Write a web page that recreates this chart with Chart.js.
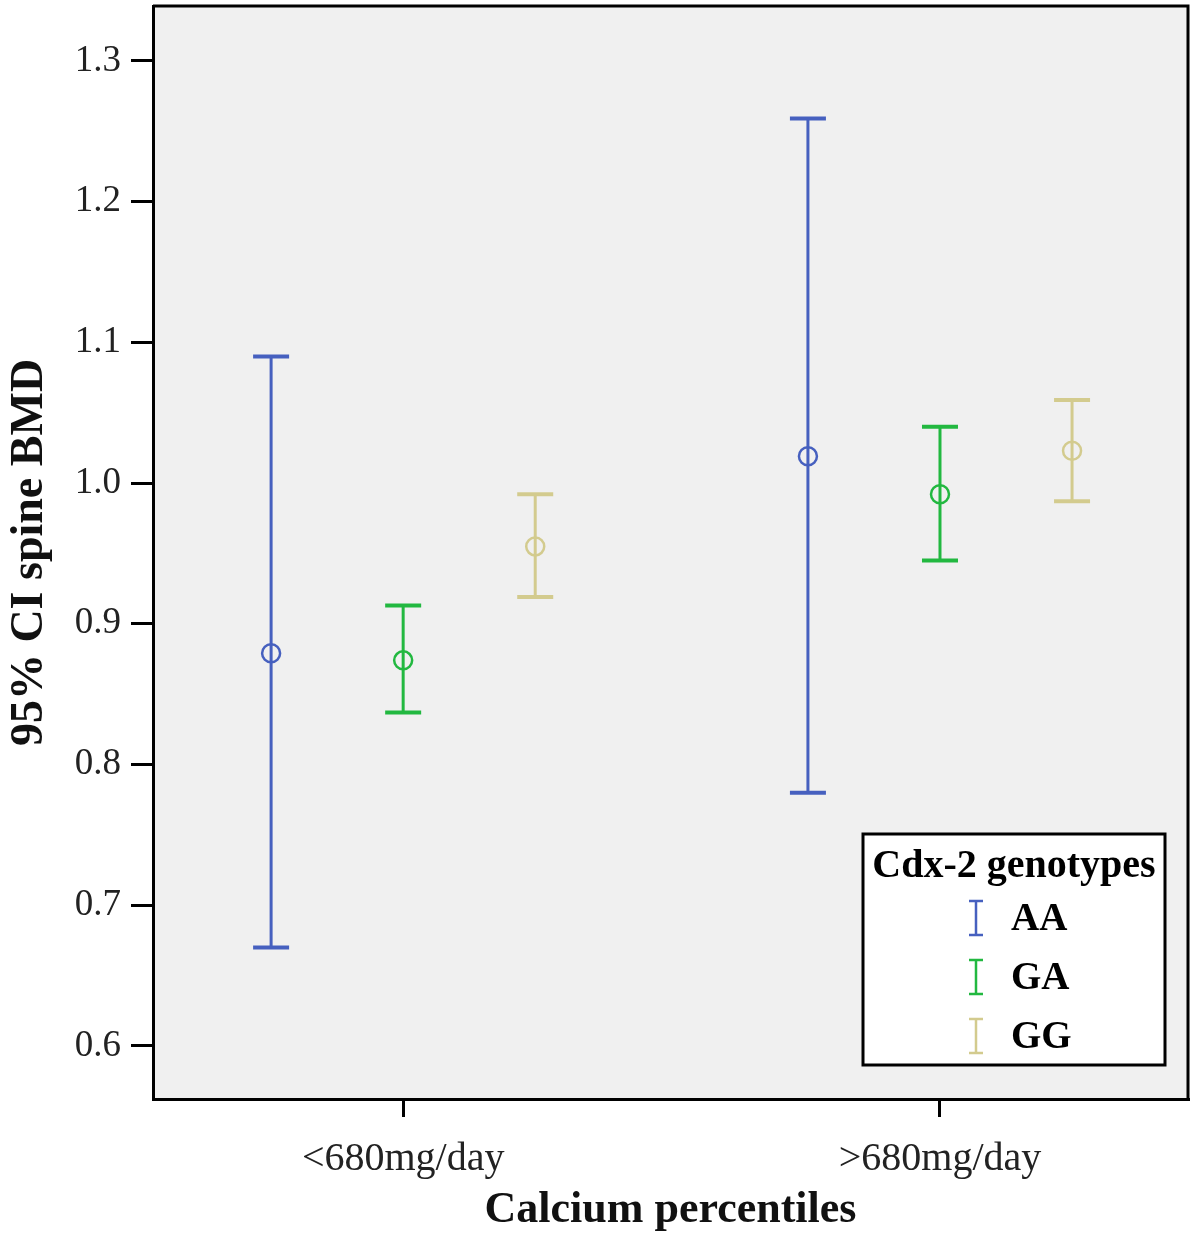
<!DOCTYPE html>
<html>
<head>
<meta charset="utf-8">
<script src="https://cdn.jsdelivr.net/npm/chart.js@4.4.1/dist/chart.umd.min.js"></script>
<style>
  html, body { margin: 0; padding: 0; background: #fff; }
  canvas { display: block; }
</style>
</head>
<body>
<canvas id="ciChart" width="1191" height="1235"></canvas>
<script>
// Calcium intake groups and genotypes
const categories = ['<680mg/day', '>680mg/day'];
const genotypes = ['AA', 'GA', 'GG'];
const colors = ['#4660bf', '#22b840', '#d3cb8e'];

// mean and 95% CI of spine BMD, one array per genotype (per calcium group)
const aaMean = [0.879, 1.019];
const aaLow  = [0.670, 0.780];
const aaHigh = [1.090, 1.259];
const gaMean = [0.874, 0.992];
const gaLow  = [0.837, 0.945];
const gaHigh = [0.913, 1.040];
const ggMean = [0.955, 1.023];
const ggLow  = [0.919, 0.987];
const ggHigh = [0.992, 1.059];

const yTicks = [0.6, 0.7, 0.8, 0.9, 1.0, 1.1, 1.2, 1.3];
const groupOffset = [-0.246, 0, 0.246];

const means = [aaMean, gaMean, ggMean];
const lows = [aaLow, gaLow, ggLow];
const highs = [aaHigh, gaHigh, ggHigh];

const serif = '"Liberation Serif", "Times New Roman", serif';

const datasets = genotypes.map((g, i) => ({
  label: g,
  data: categories.map((c, j) => ({ x: j + groupOffset[i], y: means[i][j], lo: lows[i][j], hi: highs[i][j] })),
  showLine: false,
  pointStyle: 'circle',
  pointRadius: 9,
  pointBorderWidth: 2.5,
  borderColor: colors[i],
  backgroundColor: 'rgba(0,0,0,0)'
}));

// grey plot background and the box round it
const frame = {
  id: 'frame',
  beforeDraw(chart) {
    const a = chart.chartArea, ctx = chart.ctx;
    ctx.save();
    ctx.fillStyle = '#f0f0f0';
    ctx.fillRect(a.left, a.top, a.right - a.left, a.bottom - a.top);
    ctx.restore();
  },
  afterDraw(chart) {
    const a = chart.chartArea, ctx = chart.ctx;
    ctx.save();
    ctx.strokeStyle = '#000';
    ctx.lineWidth = 3;
    ctx.beginPath();
    ctx.moveTo(a.left, a.top);
    ctx.lineTo(a.right, a.top);
    ctx.lineTo(a.right, a.bottom);
    ctx.stroke();
    ctx.restore();
  }
};

// vertical CI whiskers with caps
const errorBars = {
  id: 'errorBars',
  beforeDatasetsDraw(chart) {
    const ctx = chart.ctx, xs = chart.scales.x, ys = chart.scales.y;
    ctx.save();
    chart.data.datasets.forEach((ds, i) => {
      ctx.strokeStyle = colors[i];
      ds.data.forEach(p => {
        const x = xs.getPixelForValue(p.x);
        const y1 = ys.getPixelForValue(p.lo);
        const y2 = ys.getPixelForValue(p.hi);
        ctx.lineWidth = 3;
        ctx.beginPath();
        ctx.moveTo(x, y1);
        ctx.lineTo(x, y2);
        ctx.stroke();
        ctx.lineWidth = 4;
        ctx.beginPath();
        ctx.moveTo(x - 18, y1); ctx.lineTo(x + 18, y1);
        ctx.moveTo(x - 18, y2); ctx.lineTo(x + 18, y2);
        ctx.stroke();
      });
    });
    ctx.restore();
  }
};

// legend box in the lower right of the plot
const legendBox = {
  id: 'legendBox',
  afterDraw(chart) {
    const ctx = chart.ctx, a = chart.chartArea;
    const w = 302, h = 231;
    const left = a.right - 325, top = a.bottom - 265;
    ctx.save();
    ctx.fillStyle = '#fff';
    ctx.fillRect(left, top, w, h);
    ctx.strokeStyle = '#000';
    ctx.lineWidth = 3;
    ctx.strokeRect(left, top, w, h);
    ctx.fillStyle = '#000';
    ctx.textBaseline = 'middle';
    ctx.textAlign = 'center';
    ctx.font = 'bold 40px ' + serif;
    ctx.fillText('Cdx-2 genotypes', left + w / 2, top + 33);
    genotypes.forEach((g, i) => {
      const cy = top + 84 + i * 59;
      const ix = left + 113;
      ctx.strokeStyle = colors[i];
      ctx.lineWidth = 2.5;
      ctx.beginPath();
      ctx.moveTo(ix, cy - 17); ctx.lineTo(ix, cy + 17);
      ctx.moveTo(ix - 7, cy - 17); ctx.lineTo(ix + 7, cy - 17);
      ctx.moveTo(ix - 7, cy + 17); ctx.lineTo(ix + 7, cy + 17);
      ctx.stroke();
      ctx.fillStyle = '#000';
      ctx.textAlign = 'left';
      ctx.font = 'bold 39px ' + serif;
      ctx.fillText(g, left + 148, cy + 2);
    });
    ctx.restore();
  }
};

new Chart(document.getElementById('ciChart'), {
  type: 'scatter',
  data: { datasets },
  options: {
    responsive: false,
    animation: false,
    devicePixelRatio: 1,
    layout: { autoPadding: false, padding: { top: 6, right: 3, left: 0, bottom: 0 } },
    plugins: { legend: { display: false }, tooltip: { enabled: false } },
    scales: {
      x: {
        type: 'linear',
        min: -0.466,
        max: 1.462,
        afterFit(scale) {
          scale.height = 136;
          scale.paddingLeft = 0;
          scale.paddingRight = 0;
        },
        afterBuildTicks(scale) { scale.ticks = categories.map((c, j) => ({ value: j })); },
        ticks: {
          callback: v => categories[v],
          color: '#222',
          font: { family: serif, size: 40 },
          padding: 18,
          maxRotation: 0
        },
        grid: { drawOnChartArea: false, drawTicks: true, tickLength: 18, color: '#000', lineWidth: 3 },
        border: { display: true, color: '#000', width: 3 },
        title: {
          display: true,
          text: 'Calcium percentiles',
          color: '#111',
          font: { family: serif, size: 44, weight: 'bold', lineHeight: 1.1 },
          padding: { top: 0, bottom: 0 }
        }
      },
      y: {
        min: 0.5623,
        max: 1.339,
        afterFit(scale) {
          scale.width = 153;
          scale.paddingTop = 0;
          scale.paddingBottom = 0;
        },
        afterBuildTicks(scale) { scale.ticks = yTicks.map(v => ({ value: v })); },
        ticks: {
          callback: v => v.toFixed(1),
          color: '#222',
          font: { family: serif, size: 37 },
          padding: 10
        },
        grid: { drawOnChartArea: false, drawTicks: true, tickLength: 22, color: '#000', lineWidth: 3 },
        border: { display: true, color: '#000', width: 3 },
        title: {
          display: true,
          text: '95% CI spine BMD',
          color: '#111',
          font: { family: serif, size: 46, weight: 'bold' },
          padding: { top: 3, bottom: 0 }
        }
      }
    }
  },
  plugins: [frame, errorBars, legendBox]
});
</script>
</body>
</html>
